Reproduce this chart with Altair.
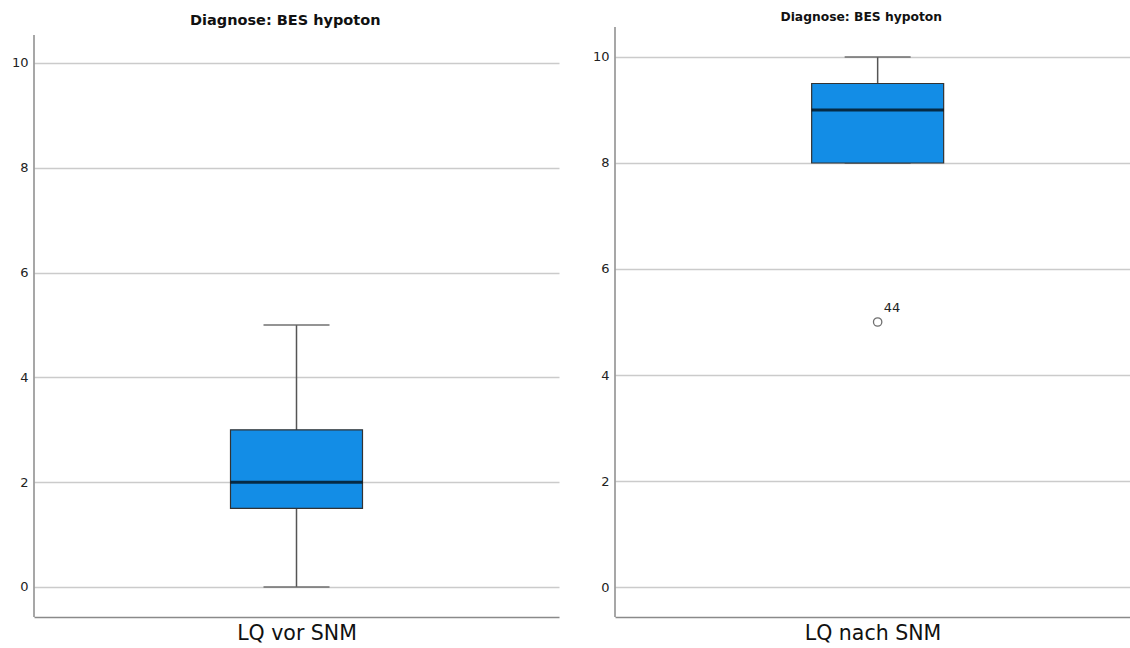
import altair as alt
import pandas as pd

# Summary statistics for the two box plots (LQ before / after SNM)
variables = ["LQ vor SNM", "LQ nach SNM"]
lower_whisker = [0, 8]
q1 = [1.5, 8]
median = [2, 9]
q3 = [3, 9.5]
upper_whisker = [5, 10]

# Outliers (only in the second variable)
outlier_var = ["LQ nach SNM"]
outlier_value = [5]
outlier_case = ["44"]

y_ticks = [0, 2, 4, 6, 8, 10]
panel_title = "Diagnose: BES hypoton"

# Visible extent of each value axis, and the scale domain behind it
axis_extent = [[-0.573, 10.534], [-0.566, 10.566]]
scale_domain = [[-0.573, 10.687], [-0.566, 10.566]]

FONT = "DejaVu Sans"
BOX_FILL = "#138de6"
AXIS_GREY = "#8a8a8a"


def box_panel(i, width, height, title_size, title_offset, x_align):
    df = pd.DataFrame({
        "var": [variables[i]],
        "lower": [lower_whisker[i]],
        "q1": [q1[i]],
        "median": [median[i]],
        "q3": [q3[i]],
        "upper": [upper_whisker[i]],
        "ax0": [axis_extent[i][0]],
        "ax1": [axis_extent[i][1]],
    })
    x = alt.X(
        "var:N",
        scale=alt.Scale(paddingInner=0, paddingOuter=0.5, align=x_align),
        axis=alt.Axis(
            labels=False, ticks=False, tickSize=0, title=variables[i],
            titleFont=FONT, titleFontSize=20.5, titleFontWeight="normal",
            titleColor="#111", titlePadding=6,
            domainColor=AXIS_GREY, domainWidth=1.5, grid=False,
        ),
    )
    yscale = alt.Scale(domain=scale_domain[i], nice=False, zero=False)
    base = alt.Chart(df)

    # value-axis line, drawn only over the visible extent
    axis_line = base.mark_rule(color=AXIS_GREY, strokeWidth=1.5).encode(
        x=alt.value(0),
        y=alt.Y(
            "ax0:Q", scale=yscale, title=None,
            axis=alt.Axis(
                values=y_ticks, grid=True, gridColor="#cbcbcb", gridWidth=1.5,
                ticks=False, tickSize=0, labelPadding=6, labelFont=FONT,
                labelFontSize=13, labelColor="#222", domain=False,
            ),
        ),
        y2="ax1:Q",
    )
    whisker = base.mark_rule(color="#555", strokeWidth=1.5).encode(
        x=x, y=alt.Y("lower:Q", scale=yscale), y2="upper:Q"
    )
    caps_low = base.mark_tick(color="#666", thickness=2, size=66).encode(
        x=x, y=alt.Y("lower:Q", scale=yscale)
    )
    caps_high = base.mark_tick(color="#666", thickness=2, size=66).encode(
        x=x, y=alt.Y("upper:Q", scale=yscale)
    )
    box = base.mark_bar(size=132, color=BOX_FILL, stroke="#333",
                        strokeWidth=1.2).encode(
        x=x, y=alt.Y("q1:Q", scale=yscale), y2="q3:Q"
    )
    med = base.mark_tick(color="#000", thickness=3, size=132).encode(
        x=x, y=alt.Y("median:Q", scale=yscale)
    )
    layers = [axis_line, whisker, caps_low, caps_high, box, med]

    out = pd.DataFrame({"var": outlier_var, "value": outlier_value,
                        "case": outlier_case})
    out = out[out["var"] == variables[i]]
    if len(out):
        pts = alt.Chart(out).mark_point(
            shape="circle", filled=False, size=70, color="#333", strokeWidth=1.3
        ).encode(x=x, y=alt.Y("value:Q", scale=yscale))
        lbl = alt.Chart(out).mark_text(
            align="left", baseline="middle", dx=6, dy=-14, font=FONT,
            fontSize=13, color="#222"
        ).encode(x=x, y=alt.Y("value:Q", scale=yscale), text="case:N")
        layers += [pts, lbl]

    return alt.layer(*layers).properties(
        width=width, height=height,
        title=alt.TitleParams(
            panel_title, font=FONT, fontSize=title_size, fontWeight="bold",
            color="#111", anchor="middle", frame="bounds", offset=title_offset,
        ),
    )


left = box_panel(0, 525, 590, 14.5, -1, 0.5)
right = box_panel(1, 515, 590, 12.3, 3, 0.52)

chart = alt.hconcat(left, right, spacing=33).properties(
    padding={"left": 11, "top": 10, "right": 0, "bottom": 0},
    background="white",
).configure_view(strokeWidth=0)

chart.save("out.html", embed_options={"renderer": "svg", "actions": False})
